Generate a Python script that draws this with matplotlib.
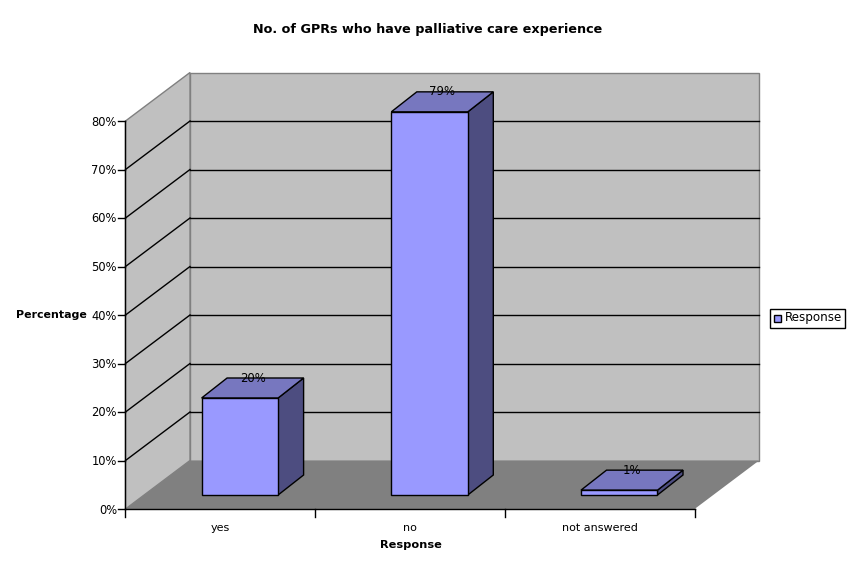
import matplotlib
matplotlib.use("Agg")
import matplotlib.pyplot as plt
from matplotlib.patches import Polygon, Rectangle

categories = ["yes", "no", "not answered"]
values = [20, 79, 1]
labels = ["20%", "79%", "1%"]
yticks = [0, 10, 20, 30, 40, 50, 60, 70, 80]
title = "No. of GPRs who have palliative care experience"
xlabel = "Response"
ylabel = "Percentage"
series = "Response"

plt.rcParams["font.family"] = "DejaVu Sans"
fig = plt.figure(figsize=(8.54, 5.85), dpi=100)
ax = fig.add_axes([0, 0, 1, 1])
ax.set_xlim(0, 854)
ax.set_ylim(585, 0)
ax.axis("off")

X0, Y0, PX = 125.5, 509, 4.85
CW = 189.7
DX, DY = 64.5, -48.5
BW, BDX, BDY, BOFF = 76.5, 25.5, -20, 14
LW = 1.0


def vy(v):
    return Y0 - v * PX


top = vy(yticks[-1])
right = X0 + CW * len(categories)
# walls and floor
ax.add_patch(Polygon([(X0 + DX, top + DY), (right + DX, top + DY), (right + DX, Y0 + DY), (X0 + DX, Y0 + DY)],
                     fc="#c0c0c0", ec="#808080", lw=1.0, zorder=1))
ax.add_patch(Polygon([(X0, top), (X0 + DX, top + DY), (X0 + DX, Y0 + DY), (X0, Y0)],
                     fc="#c0c0c0", ec="#808080", lw=1.0, zorder=1))
ax.add_patch(Polygon([(X0, Y0), (X0 + DX, Y0 + DY), (right + DX, Y0 + DY), (right, Y0)],
                     fc="#808080", ec="none", zorder=1))
# gridlines
for t in yticks:
    y = vy(t)
    if 0 < t < yticks[-1]:
        ax.plot([X0 + DX, right + DX], [y + DY, y + DY], color="black", lw=LW, zorder=2)
    if 0 < t < yticks[-1]:
        ax.plot([X0, X0 + DX], [y, y + DY], color="black", lw=LW, zorder=2)
    ax.plot([X0 - 7, X0], [y, y], color="black", lw=LW, zorder=3)
    ax.text(X0 - 8.5, y + 1, f"{t}%", ha="right", va="center", fontsize=8.3, color="black", zorder=5)
# axes
ax.plot([X0, X0], [top, Y0], color="black", lw=LW, zorder=3)
ax.plot([X0, right], [Y0, Y0], color="black", lw=LW, zorder=3)
for i in range(len(categories) + 1):
    x = X0 + CW * i
    ax.plot([x, x], [Y0, Y0 + 8], color="black", lw=LW, zorder=3)
# bars
for i, (c, v, l) in enumerate(zip(categories, values, labels)):
    cx = X0 + CW * (i + 0.5)
    x0 = cx + 19.5 - BW / 2
    x1 = x0 + BW
    yb = Y0 - BOFF
    yt = yb - v * PX
    ax.add_patch(Polygon([(x1, yb), (x1 + BDX, yb + BDY), (x1 + BDX, yt + BDY), (x1, yt)],
                         fc="#4d4d80", ec="black", lw=LW, zorder=4))
    ax.add_patch(Polygon([(x0, yt), (x0 + BDX, yt + BDY), (x1 + BDX, yt + BDY), (x1, yt)],
                         fc="#7777bf", ec="black", lw=LW, zorder=4))
    ax.add_patch(Rectangle((x0, yt), BW, yb - yt, fc="#9999ff", ec="black", lw=LW, zorder=4))
    ax.text(x0 + 51, yt + BDY, l, ha="center", va="center", fontsize=8.4, color="black", zorder=6)
    ax.text(cx, 528, c, ha="center", va="center", fontsize=8, color="black", zorder=5)

ax.text(428, 30, title, ha="center", va="center", fontsize=9.2, fontweight="bold")
ax.text(410.5, 545, xlabel, ha="center", va="center", fontsize=8.2, fontweight="bold")
ax.text(51.5, 315, ylabel, ha="center", va="center", fontsize=7.9, fontweight="bold")
# legend
ax.add_patch(Rectangle((770.5, 308.5), 75, 19, fc="white", ec="black", lw=LW, zorder=4))
ax.add_patch(Rectangle((774.5, 314.5), 7, 7, fc="#9999ff", ec="black", lw=LW, zorder=5))
ax.text(785, 318, series, ha="left", va="center", fontsize=8.6, zorder=5)

fig.savefig("out.png", dpi=100)
